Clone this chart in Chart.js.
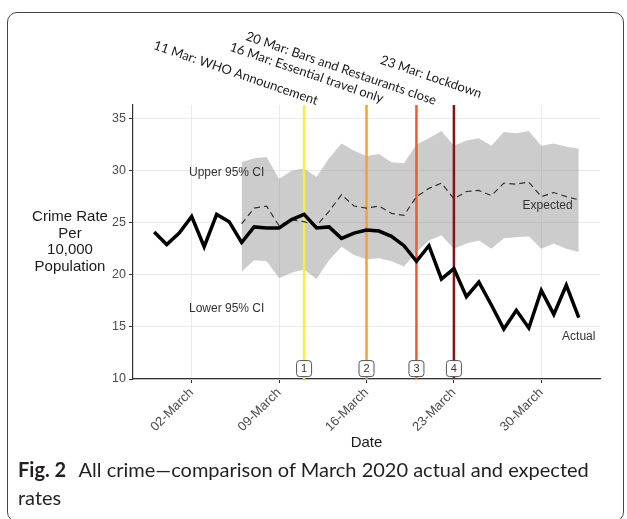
<!DOCTYPE html>
<html>
<head>
<meta charset="utf-8">
<script src="https://cdn.jsdelivr.net/npm/chart.js@4/dist/chart.umd.min.js"></script>
<style>
    body { margin: 0; background: #fff; }
    #wrap { position: relative; width: 627px; height: 519px; overflow: hidden; }
    #frame { position: absolute; left: 7px; top: 12px; width: 615px; height: 508px; border: 1.5px solid #444; border-radius: 10px; }
    #caption { position: absolute; left: 18px; top: 455px; font-family: Lato, "Open Sans", sans-serif; font-size: 20px; line-height: 28px; color: #231f20; white-space: nowrap; }
    #caption b { font-weight: 700; margin-right: 8px; }
</style>
</head>
<body>
<div id="wrap">
    <div id="frame"></div>
    <canvas id="crimeChart" width="627" height="460" style="position:absolute;left:0;top:0;"></canvas>
    <div id="caption"><b>Fig. 2</b> All crime—comparison of March 2020 actual and expected<br>rates</div>
</div>
<script>
// day of March (-1 = 28 Feb, 0 = 29 Feb, 33 = 2 Apr)
const actualDays = [-1, 0, 1, 2, 3, 4, 5, 6, 7, 8, 9, 10, 11, 12, 13, 14, 15, 16, 17, 18, 19, 20, 21, 22, 23, 24, 25, 26, 27, 28, 29, 30, 31, 32, 33];
const actualRate = [24.1, 22.9, 24.0, 25.6, 22.7, 25.8, 25.1, 23.1, 24.6, 24.5, 24.5, 25.3, 25.8, 24.5, 24.6, 23.5, 24.0, 24.3, 24.2, 23.7, 22.8, 21.3, 22.8, 19.6, 20.6, 17.9, 19.3, 17.1, 14.8, 16.6, 14.9, 18.5, 16.2, 19.0, 15.9];

const expectedDays = [6, 7, 8, 9, 10, 11, 12, 13, 14, 15, 16, 17, 18, 19, 20, 21, 22, 23, 24, 25, 26, 27, 28, 29, 30, 31, 32, 33];
const expectedRate = [24.9, 26.4, 26.6, 24.7, 25.3, 25.1, 24.7, 26.1, 27.7, 26.6, 26.4, 26.6, 25.9, 25.7, 27.5, 28.3, 28.8, 27.3, 28.0, 28.1, 27.6, 28.8, 28.7, 28.9, 27.5, 27.9, 27.5, 27.2];
const upperCI = [30.8, 31.2, 31.3, 29.2, 30.0, 30.2, 29.4, 31.2, 32.6, 31.9, 31.4, 31.6, 30.8, 30.7, 32.5, 33.1, 33.8, 32.4, 32.9, 33.1, 32.4, 33.7, 33.6, 33.8, 32.4, 32.6, 32.3, 32.1];
const lowerCI = [20.3, 21.4, 21.3, 19.7, 20.2, 20.5, 19.6, 21.4, 22.7, 21.9, 21.5, 21.6, 21.3, 20.8, 22.2, 23.3, 23.8, 22.5, 23.0, 23.3, 22.5, 23.5, 23.6, 23.7, 22.5, 23.0, 22.5, 22.2];

const tickDays = [2, 9, 16, 23, 30];
const tickLabels = ['02-March', '09-March', '16-March', '23-March', '30-March'];
const yTicks = [10, 15, 20, 25, 30, 35];

const eventDays = [11, 16, 20, 23];
const eventNumbers = ['1', '2', '3', '4'];
const eventLabels = ['11 Mar: WHO Announcement', '16 Mar: Essential travel only', '20 Mar: Bars and Restaurants close', '23 Mar: Lockdown'];
const eventColors = ['#f7ef3c', '#f0a232', '#ee5b2e', '#841516'];
// where the end of each rotated label sits, relative to the top of its line
const eventLabelOffsets = [[12, 0], [15, -2], [18, 0], [26, -7]];

const toPoints = (xs, ys) => xs.map((x, i) => ({ x: x, y: ys[i] }));

const axisFamily = '"Liberation Sans", Arial, sans-serif';

const textPlugin = {
    id: 'crimeText',
    afterDatasetDraw(chart, args) {
        // event lines go over the band but under the rate lines
        if (args.index !== 2) return;
        const ctx = chart.ctx;
        const x = chart.scales.x;
        const area = chart.chartArea;
        ctx.save();
        ctx.lineWidth = 2.5;
        eventDays.forEach((d, i) => {
            const px = x.getPixelForValue(d);
            ctx.strokeStyle = eventColors[i];
            ctx.beginPath();
            ctx.moveTo(px, area.top);
            ctx.lineTo(px, area.bottom);
            ctx.stroke();
        });
        ctx.restore();
    },
    afterDatasetsDraw(chart) {
        const ctx = chart.ctx;
        const x = chart.scales.x;
        const y = chart.scales.y;
        ctx.save();
        // numbered boxes
        ctx.font = '11px ' + axisFamily;
        ctx.textAlign = 'center';
        ctx.textBaseline = 'middle';
        eventDays.forEach((d, i) => {
            const px = x.getPixelForValue(d);
            const py = y.getPixelForValue(11);
            ctx.fillStyle = '#fff';
            ctx.strokeStyle = '#555';
            ctx.lineWidth = 1;
            ctx.beginPath();
            ctx.roundRect(px - 7.5, py - 8, 15, 16, 3);
            ctx.fill();
            ctx.stroke();
            ctx.fillStyle = '#333';
            ctx.fillText(eventNumbers[i], px, py + 0.5);
        });
        // in-plot labels
        ctx.font = '12px ' + axisFamily;
        ctx.fillStyle = '#333';
        ctx.fillText('Upper 95% CI', x.getPixelForValue(4.8), y.getPixelForValue(29.85));
        ctx.fillText('Lower 95% CI', x.getPixelForValue(4.8), y.getPixelForValue(16.75));
        ctx.fillText('Expected', x.getPixelForValue(30.5), y.getPixelForValue(26.6));
        ctx.fillText('Actual', x.getPixelForValue(33), y.getPixelForValue(14.1));
        ctx.restore();
    },
    afterDraw(chart) {
        const ctx = chart.ctx;
        const area = chart.chartArea;
        const x = chart.scales.x;
        ctx.save();
        ctx.fillStyle = '#1a1a1a';
        ctx.font = '15px ' + axisFamily;
        ctx.textAlign = 'center';
        ctx.textBaseline = 'middle';
        const yTitle = ['Crime Rate', 'Per', '10,000', 'Population'];
        const midY = (area.top + area.bottom) / 2;
        yTitle.forEach((t, i) => {
            ctx.fillText(t, 70, midY + (i - 1.5) * 16.5);
        });
        ctx.fillText('Date', (area.left + area.right) / 2, 443);

        // rotated event labels above the plot
        ctx.font = '13px Lato, "Open Sans", sans-serif';
        ctx.textAlign = 'right';
        ctx.textBaseline = 'alphabetic';
        eventDays.forEach((d, i) => {
            const px = x.getPixelForValue(d);
            ctx.save();
            ctx.translate(px + eventLabelOffsets[i][0], area.top + eventLabelOffsets[i][1]);
            ctx.rotate(19 * Math.PI / 180);
            ctx.fillText(eventLabels[i], 0, 0);
            ctx.restore();
        });
        ctx.restore();
    }
};

const ctx = document.getElementById('crimeChart').getContext('2d');
new Chart(ctx, {
    type: 'line',
    data: {
        datasets: [
            {
                label: 'Actual',
                data: toPoints(actualDays, actualRate),
                borderColor: '#000',
                borderWidth: 3.5,
                pointRadius: 0,
                fill: false,
                tension: 0
            },
            {
                label: 'Expected',
                data: toPoints(expectedDays, expectedRate),
                borderColor: '#333',
                borderWidth: 1.2,
                borderDash: [6, 4],
                pointRadius: 0,
                fill: false,
                tension: 0
            },
            {
                label: 'Lower 95% CI',
                data: toPoints(expectedDays, lowerCI),
                borderWidth: 0,
                borderColor: 'rgba(0,0,0,0)',
                pointRadius: 0,
                fill: false
            },
            {
                label: 'Upper 95% CI',
                data: toPoints(expectedDays, upperCI),
                borderWidth: 0,
                borderColor: 'rgba(0,0,0,0)',
                backgroundColor: 'rgba(127,127,127,0.4)',
                pointRadius: 0,
                fill: '-1'
            }
        ]
    },
    options: {
        responsive: false,
        animation: false,
        devicePixelRatio: 1,
        layout: { padding: { top: 105, right: 27, left: 0, bottom: 0 } },
        plugins: { legend: { display: false }, tooltip: { enabled: false } },
        scales: {
            x: {
                type: 'linear',
                min: -2.7,
                max: 34.7,
                afterBuildTicks: s => { s.ticks = tickDays.map(v => ({ value: v })); },
                afterFit: s => { s.height = 81; },
                grid: { color: '#ebebeb', lineWidth: 1, tickLength: 4, tickColor: '#333' },
                border: { display: true, color: '#333', width: 1.2 },
                ticks: {
                    font: { family: axisFamily, size: 13 },
                    color: '#4d4d4d',
                    minRotation: 45,
                    maxRotation: 45,
                    autoSkip: false,
                    padding: 2,
                    callback: v => tickLabels[tickDays.indexOf(v)]
                }
            },
            y: {
                min: 10,
                max: 36.3,
                afterBuildTicks: s => { s.ticks = yTicks.map(v => ({ value: v })); },
                afterFit: s => { s.width = 133; },
                grid: { color: '#ebebeb', lineWidth: 1, tickLength: 4, tickColor: '#333' },
                border: { display: true, color: '#333', width: 1.2 },
                ticks: { font: { family: axisFamily, size: 12.5 }, color: '#4d4d4d', padding: 3 }
            }
        }
    },
    plugins: [textPlugin]
});
</script>
</body>
</html>
